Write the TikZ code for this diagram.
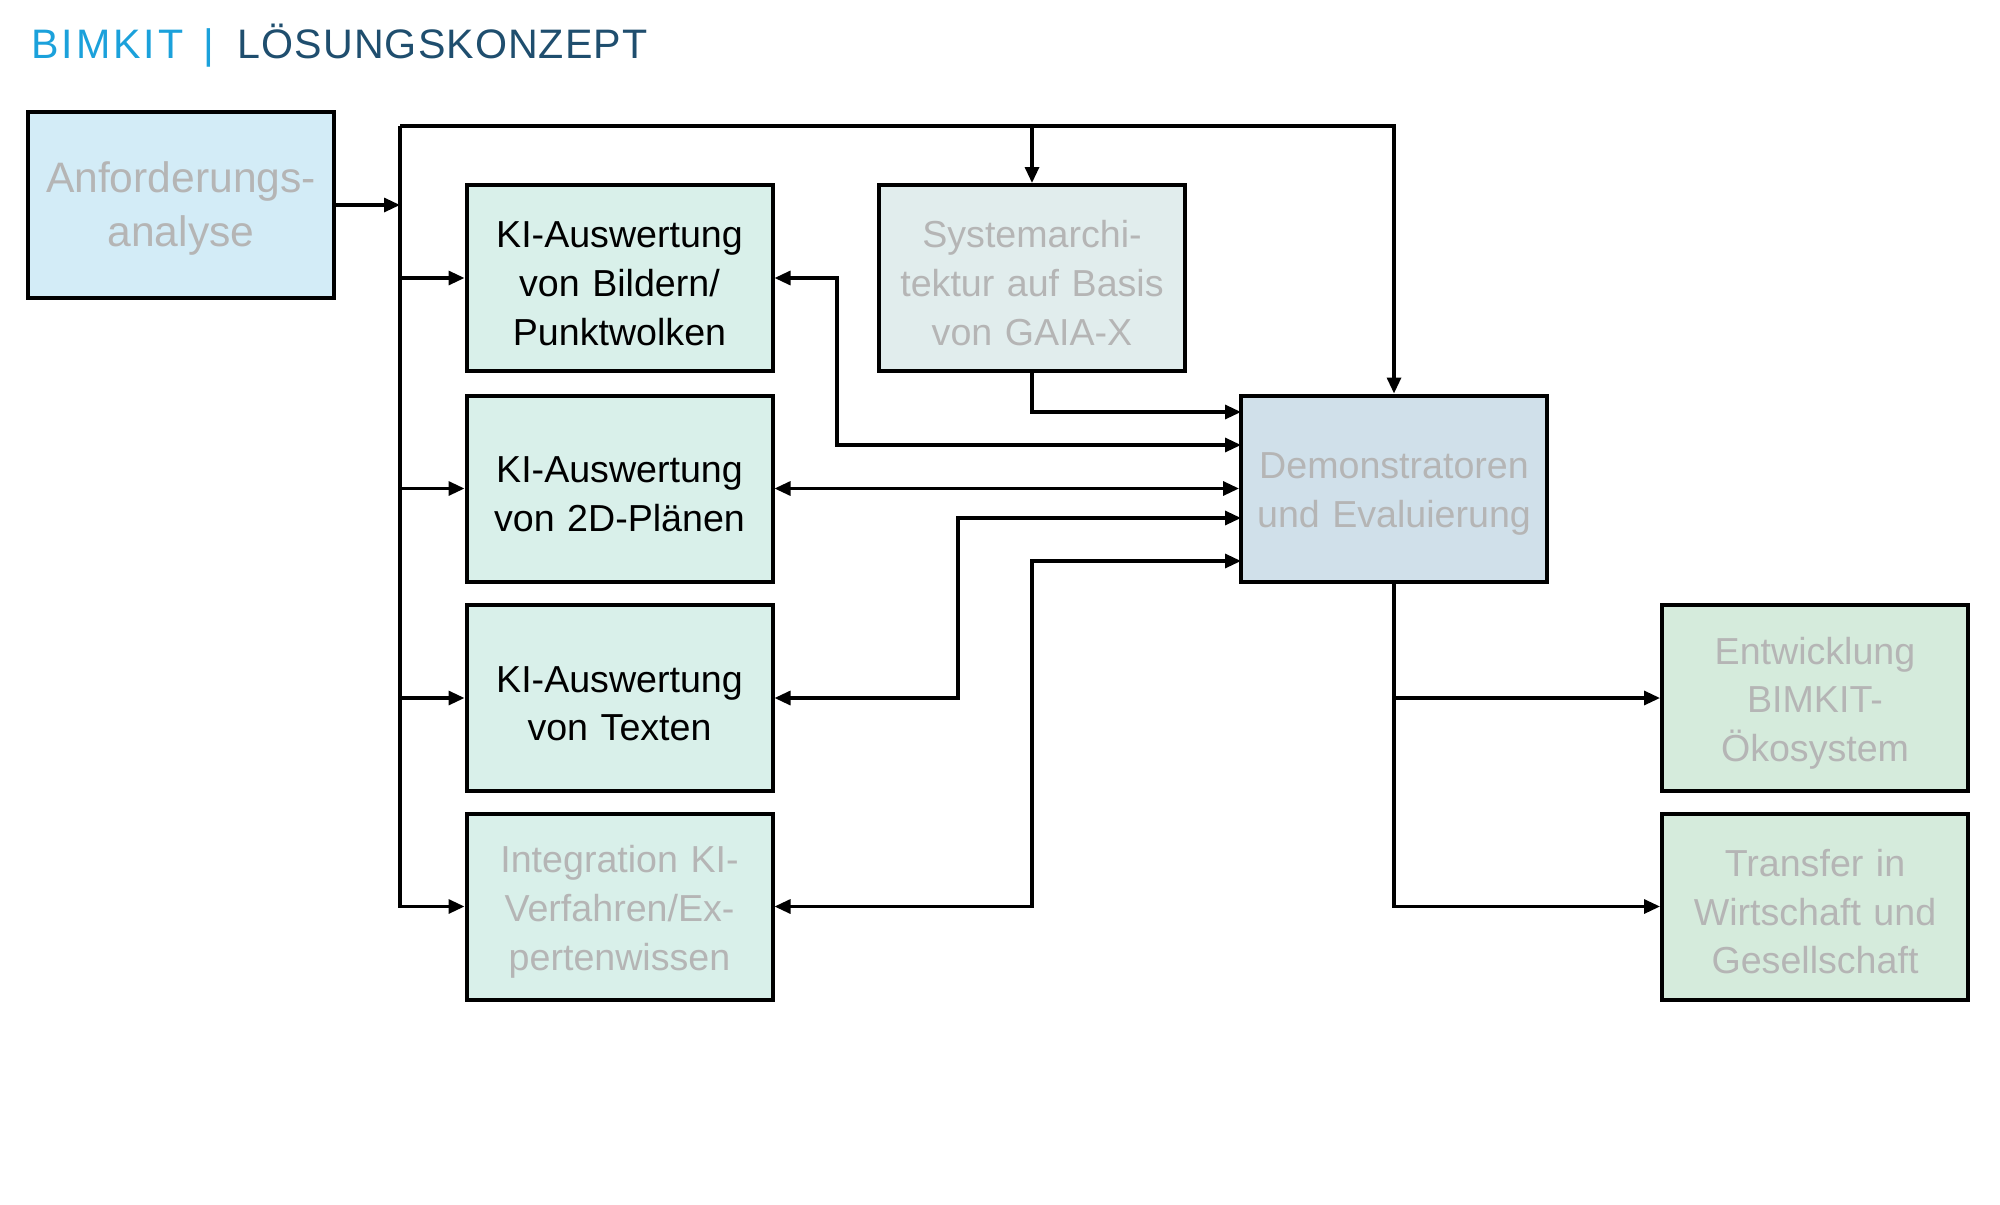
\documentclass[tikz,border=0pt]{standalone}
\usepackage{fontspec}
\setmainfont{Liberation Sans}
\newfontfamily\titlefonta[LetterSpace=7]{Liberation Sans}
\newfontfamily\titlefontb[LetterSpace=2.5]{Liberation Sans}
\usetikzlibrary{arrows.meta}
\definecolor{bimblue}{HTML}{1BA1DB}
\definecolor{bimdark}{HTML}{1F4E6E}
\definecolor{txtgray}{HTML}{B5B5B5}
\definecolor{fillanf}{HTML}{D3ECF7}
\definecolor{fillki}{HTML}{D9F0EA}
\definecolor{fillsa}{HTML}{E1EDED}
\definecolor{filldemo}{HTML}{D0E0EA}
\definecolor{fillout}{HTML}{D5EBDC}
\newcommand{\topstrut}{\rule{0pt}{18.7pt}}
\begin{document}
\begin{tikzpicture}[x=0.5pt,y=-0.5pt,
  box/.style={draw=black, line width=2pt, minimum width=153pt, minimum height=93pt,
    inner sep=0pt, align=center, text width=148pt,
    font=\fontsize{18.8pt}{24.4pt}\selectfont},
  conn/.style={line width=1.6pt, -{Triangle[length=8pt,width=7pt]}},
  biconn/.style={line width=1.6pt, {Triangle[length=8pt,width=7pt]}-{Triangle[length=8pt,width=7pt]}}]
\useasboundingbox (0,0) rectangle (2000,1204);
\node[anchor=base west, inner sep=0pt] (title) at (31,59)
  {\fontsize{20.6pt}{24pt}\selectfont\titlefonta\color{bimblue}BIMKIT\hspace{10pt}|\hspace{12pt}\titlefontb\color{bimdark}LÖSUNGSKONZEPT};

\node[box, fill=fillanf, text=txtgray, font=\fontsize{21.3pt}{27.4pt}\selectfont] (anf) at (181,205) {\rule{0pt}{19pt}Anforderungs-\\analyse};
\node[box, fill=fillki] (ki1) at (619.5,278) {\topstrut KI-Auswertung\\von Bildern/\\Punktwolken};
\node[box, fill=fillki] (ki2) at (619.5,488.5) {\topstrut KI-Auswertung\\von 2D-Plänen};
\node[box, fill=fillki] (ki3) at (619.5,698) {\topstrut KI-Auswertung\\von Texten};
\node[box, fill=fillki, text=txtgray] (ki4) at (619.5,906.5) {\topstrut Integration KI-\\Verfahren/Ex-\\pertenwissen};
\node[box, fill=fillsa, text=txtgray] (sa) at (1032,278) {\topstrut Systemarchi-\\tektur auf Basis\\von GAIA-X};
\node[box, fill=filldemo, text=txtgray] (demo) at (1394,488.5) {\topstrut Demonstratoren\\und Evaluierung};
\node[box, fill=fillout, text=txtgray] (entw) at (1815,698) {\topstrut Entwicklung\\BIMKIT-\\Ökosystem};
\node[box, fill=fillout, text=txtgray] (trans) at (1815,906.5) {\topstrut Transfer in\\Wirtschaft und\\Gesellschaft};

% bus
\coordinate (bustop) at (400,126);
\coordinate (busin) at (400,205);
\coordinate (topright) at (1394,126);
\coordinate (sabranch) at (1032,126);
\draw[conn] (anf.east) -- (busin);
\draw[conn] (bustop) -- (bustop |- ki4.west) -- (ki4.west);
\draw[conn] (bustop |- ki1.west) -- (ki1.west);
\draw[conn] (bustop |- ki2.west) -- (ki2.west);
\draw[conn] (bustop |- ki3.west) -- (ki3.west);
\draw[conn] (bustop) -- (topright) -- (demo.north);
\draw[conn] (sabranch) -- (sa.north);

% into demonstrator
\coordinate (d1) at (1241,412);
\coordinate (d2) at (1241,445);
\coordinate (d4) at (1241,518);
\coordinate (d5) at (1241,561);
\draw[conn] (sa.south) -- (sa.south |- d1) -- (d1);
\draw[biconn] (ki1.east) -- (837,278) -- (837,445) -- (d2);
\draw[biconn] (ki2.east) -- (demo.west);
\draw[biconn] (ki3.east) -- (958,698) -- (958,518) -- (d4);
\draw[biconn] (ki4.east) -- (1032,906.5) -- (1032,561) -- (d5);

% outputs
\draw[conn] (demo.south) -- (demo.south |- trans.west) -- (trans.west);
\draw[conn] (demo.south |- entw.west) -- (entw.west);
\end{tikzpicture}
\end{document}
